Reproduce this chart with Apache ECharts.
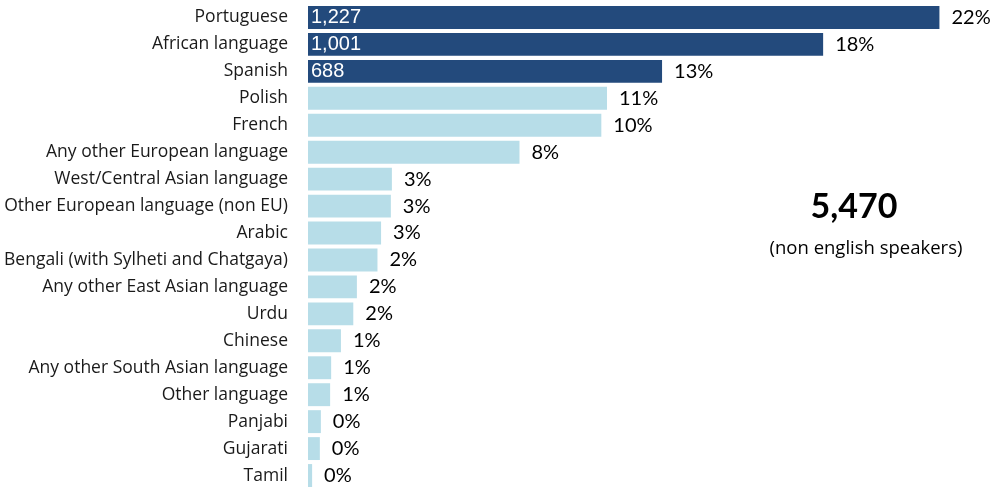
<!DOCTYPE html>
<html>
<head>
<meta charset="utf-8">
<script src="https://cdn.jsdelivr.net/npm/echarts@6/dist/echarts.min.js"></script>
<style>
  html, body { margin: 0; padding: 0; background: #fff; }
  #chart { width: 1001px; height: 490px; }
</style>
</head>
<body>
<div id="chart"></div>
<script>
const languages = [
  'Portuguese', 'African language', 'Spanish', 'Polish', 'French',
  'Any other European language', 'West/Central Asian language',
  'Other European language (non EU)', 'Arabic', 'Bengali (with Sylheti and Chatgaya)',
  'Any other East Asian language', 'Urdu', 'Chinese', 'Any other South Asian language',
  'Other language', 'Panjabi', 'Gujarati', 'Tamil'
]
const speakers = [1227, 1001, 688, 581, 570, 411, 163, 161, 142, 135, 95, 88, 64, 45, 43, 25, 23, 8]
const shareLabels = ['22%', '18%', '13%', '11%', '10%', '8%', '3%', '3%', '3%', '2%', '2%', '2%', '1%', '1%', '1%', '0%', '0%', '0%']
const totalLabel = '5,470'
const totalCaption = '(non english speakers)'
const topCount = 3

const chart = echarts.init(document.getElementById('chart'))

const option = {
  animation: false,
  grid: { left: 308, right: 24, top: 4, bottom: 1 },
  xAxis: {
    type: 'value',
    min: 0,
    max: 1300,
    show: false
  },
  yAxis: {
    type: 'category',
    data: languages,
    inverse: true,
    axisLine: { show: false },
    axisTick: { show: false },
    axisLabel: {
      margin: 20,
      padding: [4, 0, 0, 0],
      color: '#1a1a1a',
      fontFamily: 'Open Sans',
      fontSize: 17.5
    }
  },
  series: [
    {
      type: 'bar',
      data: speakers,
      barCategoryGap: '15%',
      itemStyle: {
        color: (p) => (p.dataIndex < topCount ? '#234a7c' : '#b7dde8')
      },
      label: {
        show: true,
        position: 'right',
        distance: 12,
        color: '#000',
        fontFamily: 'Lato',
        fontSize: 20,
        formatter: (p) => shareLabels[p.dataIndex]
      }
    },
    {
      type: 'bar',
      data: speakers,
      barGap: '-100%',
      barCategoryGap: '15%',
      silent: true,
      itemStyle: { color: 'transparent' },
      label: {
        show: true,
        position: 'insideLeft',
        distance: 3,
        color: '#fff',
        fontFamily: 'Liberation Sans',
        fontSize: 20,
        formatter: (p) => (p.dataIndex < topCount ? p.value.toLocaleString('en-US') : '')
      }
    }
  ],
  graphic: [
    {
      type: 'text',
      x: 854,
      y: 207,
      style: {
        text: totalLabel,
        align: 'center',
        verticalAlign: 'middle',
        fill: '#000',
        font: 'bold 34px Lato'
      }
    },
    {
      type: 'text',
      x: 866,
      y: 249,
      style: {
        text: totalCaption,
        align: 'center',
        verticalAlign: 'middle',
        fill: '#000',
        font: '18.5px "Open Sans"'
      }
    }
  ]
}

chart.setOption(option)
</script>
</body>
</html>
